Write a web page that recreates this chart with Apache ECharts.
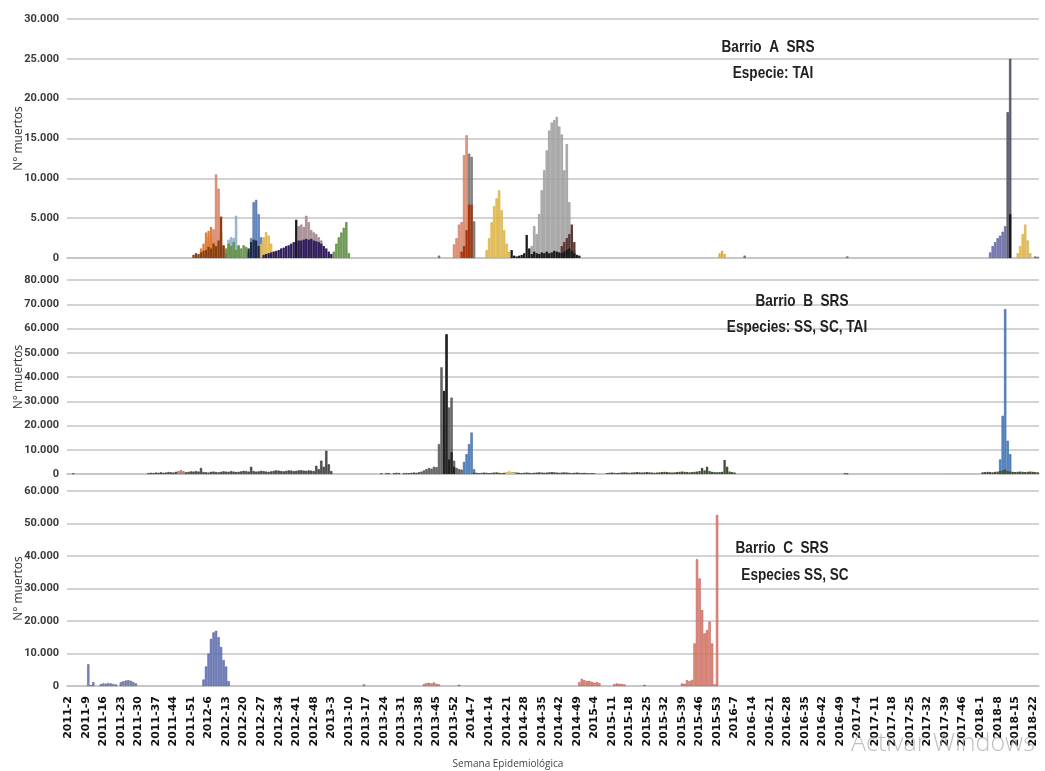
<!DOCTYPE html>
<html>
<head>
<meta charset="utf-8">
<script src="https://cdn.jsdelivr.net/npm/echarts@6.0.0/dist/echarts.min.js"></script>
<style>
  html, body { margin: 0; padding: 0; background: #fff; }
  #chart { width: 1045px; height: 771px; }
</style>
</head>
<body>
<div id="chart"></div>
<script>
// semanas epidemiológicas: [año, primera, última]
const semanasPorAnio = [[2011, 2, 52], [2012, 1, 52], [2013, 1, 52], [2014, 1, 52],
  [2015, 1, 53], [2016, 1, 52], [2017, 1, 52], [2018, 1, 24]];
const semanas = [];
semanasPorAnio.forEach(([anio, desde, hasta]) => {
  for (let w = desde; w <= hasta; w++) semanas.push(anio + '-' + w);
});

const ticksA = [0, 5000, 10000, 15000, 20000, 25000, 30000];
const ticksB = [0, 10000, 20000, 30000, 40000, 50000, 60000, 70000, 80000];
const ticksC = [0, 10000, 20000, 30000, 40000, 50000, 60000];

// ---- Barrio A (TAI) ----  cada tramo: semana inicial + valores semanales
const aSalmon1Desde = '2012-5', aSalmon1 = [2000, 2600, 3000, 3600, 10500, 8700, 3200, 1500];
const aSalmon2Desde = '2013-52', aSalmon2 = [1700, 2500, 4200, 4500, 12900, 15400];
const aNaranjaDesde = '2012-3', aNaranja = [1200, 1800, 3200, 3400, 3900, 2000];
const aCafeDesde = '2011-52', aCafe = [400, 600, 500, 700, 900, 1000, 1400, 1200, 1800, 1500, 2200, 5200, 1600, 600];
const aCelesteDesde = '2012-14', aCeleste = [2300, 2600, 2500, 5300, 1500];
const aVerde1Desde = '2012-13', aVerde1 = [1200, 1800, 1500, 2000, 1000, 1600, 1200, 1600, 1400, 800];
const aAzulDesde = '2012-23', aAzul = [2500, 7000, 7300, 5500, 2600];
const aMarinoDesde = '2012-22', aMarino = [1200, 2000, 2300, 2200, 1500];
const aAmarillo1Desde = '2012-27', aAmarillo1 = [1800, 2600, 3250, 2800, 1800, 800];
const aRosaDesde = '2012-42', aRosa = [4000, 4200, 3900, 5300, 4500, 3500, 3200, 3000, 2600, 2200];
const aMoradoDesde = '2012-28', aMorado = [400, 500, 600, 700, 800, 900, 1000, 1200, 1300, 1500, 1600, 1800, 2000, 2100,
  2200, 2200, 2300, 2400, 2300, 2400, 2200, 2100, 2000, 1800, 1500, 1200, 800, 500];
const aNegro1Desde = '2012-41', aNegro1 = [4800];
const aVerde2Desde = '2013-4', aVerde2 = [800, 1800, 2600, 3200, 3800, 4500, 600];
const aGris2Desde = '2014-6', aGris2 = [13100, 12700, 4600];
const aRojizoDesde = '2014-3', aRojizo = [800, 1500, 3500, 6700, 6700];
const aAmarillo2Desde = '2014-13', aAmarillo2 = [1000, 2500, 4500, 6500, 7500, 8500, 6000, 3500, 1800, 800];
const aGrisClaroDesde = '2014-31', aGrisClaro = [1500, 4000, 3000, 5500, 8500, 11000, 13500, 16000, 17000, 17300,
  17700, 16500, 15500, 11000, 14300, 7000, 3500, 1000];
const aNegro2Desde = '2014-23', aNegro2 = [1000, 300, 200, 300, 400, 600, 2900, 1200, 500, 800, 600, 500, 700, 600,
  800, 600, 700, 900, 800, 700, 600, 800, 1000, 1200, 900, 600, 400, 300];
const aPardoDesde = '2014-43', aPardo = [1500, 2000, 2500, 3000, 4200, 2000];
const aNaranja2Desde = '2016-1', aNaranja2 = [600, 900, 500];
const aTenue1Desde = '2013-46', aTenue1 = [300];
const aTenue2Desde = '2016-11', aTenue2 = [300];
const aTenue3Desde = '2016-52', aTenue3 = [200];
const aLilaDesde = '2018-5', aLila = [700, 1500, 2000, 2500, 2800, 3300, 4000];
const aPizarraDesde = '2018-12', aPizarra = [18300, 25000];
const aNegro3Desde = '2018-13', aNegro3 = [5500];
const aAmarillo3Desde = '2018-16', aAmarillo3 = [600, 1500, 3000, 4200, 2200, 600];
const aTenue4Desde = '2018-23', aTenue4 = [200, 150];

// ---- Barrio B (SS, SC, TAI) ----
const bPuntoDesde = '2011-4', bPunto = [300];
const bBase1Desde = '2011-34', bBase1 = [400, 500, 400, 600, 500, 700, 500, 600, 800, 700, 600, 900,
  600, 700, 600, 700, 900, 1100, 1000, 1200, 1000, 2500,
  800, 700, 600, 900, 1000, 800, 700, 900, 1100, 1000, 900, 1200, 1000, 800, 900, 1100, 1300, 1200, 1000, 3000,
  1200, 1000, 1100, 1300, 1200, 1000, 900, 1100, 1300, 1500, 1400, 1200, 1100, 1300, 1500, 1400, 1200, 1300,
  1500, 1600, 1400, 1300, 1500, 1400, 1200, 3400, 2000, 5500, 3000, 9600, 4000, 1200];
const bRojoDesde = '2011-46', bRojo = [1300, 1600, 1200];
const bTenue1Desde = '2013-23', bTenue1 = [300, 0, 400, 300, 0, 300, 500, 400, 0, 300, 400, 300, 500, 600, 500, 700];
const bGrisDesde = '2013-39', bGris = [1000, 1500, 2000, 2500, 2200, 3000, 2800, 12300, 44000, 20000, 57600, 27400,
  31500, 5500, 2500, 2000, 1800];
const bNegroDesde = '2013-48', bNegro = [34300, 57600, 6000, 9000, 3000];
const bAzul1Desde = '2014-4', bAzul1 = [5000, 8200, 12300, 17100, 2000];
const bBase2Desde = '2014-8', bBase2 = [600, 500, 400, 500, 600, 500, 400, 500, 600, 700, 500, 400, 500, 600, 500,
  600, 700, 600, 500, 400, 500, 600, 500, 400, 500, 600, 700, 600, 500, 600, 700, 800, 700, 600, 500, 600, 700,
  600, 500, 400, 500, 600, 500, 400, 500, 400, 300, 400, 300];
const bAmarillo1Desde = '2014-21', bAmarillo1 = [800, 1200, 900, 600];
const bBase3Desde = '2015-9', bBase3 = [400, 500, 600, 500, 400, 500, 600, 700, 600, 500, 600, 700, 800, 700, 600,
  700, 800, 700, 600, 500, 600, 700, 800, 900, 800, 700, 600, 700, 800, 900, 1000, 900, 800, 700, 800, 900, 1000,
  1200, 2500, 1500, 3000, 1200, 900, 800, 700, 800, 900, 5800, 3000, 1000, 800, 600];
const bTenue2Desde = '2016-51', bTenue2 = [300, 200];
const bAmarillo2Desde = '2017-39', bAmarillo2 = [300, 200, 300, 400, 300, 200, 300, 400, 300, 200, 300, 400, 300];
const bBase4Desde = '2018-2', bBase4 = [700, 800, 900, 800, 700, 900, 1000, 1200, 1500, 1800, 1200, 1000, 900, 800,
  900, 1000, 900, 800, 900, 1000, 900, 800, 700];
const bAzul2Desde = '2018-9', bAzul2 = [6000, 24000, 68000, 13700, 8200];

// ---- Barrio C (SS, SC) ----
const cGrisAzulDesde = '2011-10', cGrisAzul = [6700, 300, 1200];
const cBajoDesde = '2011-15', cBajo = [600, 800, 700, 900, 800, 600, 500, 0, 1200, 1500, 1700, 1800, 1600, 1200, 800];
const cAzulDesde = '2012-4', cAzul = [2000, 6000, 10000, 14500, 16500, 17000, 15000, 12000, 8000, 6000, 1500];
const cTenue1Desde = '2013-16', cTenue1 = [500];
const cRojo1Desde = '2013-40', cRojo1 = [600, 900, 1000, 800, 1100, 700, 500];
const cTenue2Desde = '2014-2', cTenue2 = [400];
const cRojo2Desde = '2014-50', cRojo2 = [1200, 2200, 1800, 1500, 1600, 1300, 1000, 1200, 900];
const cRojo3Desde = '2015-12', cRojo3 = [600, 800, 700, 600, 500];
const cTenue3Desde = '2015-24', cTenue3 = [400];
const cRojo4Desde = '2015-39', cRojo4 = [800, 700, 1800, 1500, 1900, 13100, 39000, 33100, 23400, 16200, 17200,
  19800, 13100, 500, 52600];

function tramos(lista) {
  const data = semanas.map(() => '-');
  lista.forEach(([desde, valores]) => {
    const i0 = semanas.indexOf(desde);
    valores.forEach((v, k) => { if (v) data[i0 + k] = v; });
  });
  return data;
}

function serie(panel, nombre, color, lista, borde) {
  return {
    type: 'bar',
    name: nombre,
    xAxisIndex: panel,
    yAxisIndex: panel,
    data: tramos(lista),
    barGap: '-100%',
    barCategoryGap: '8%',
    itemStyle: { color: color, borderColor: borde || color, borderWidth: borde ? 0.6 : 0 },
    emphasis: { disabled: true }
  };
}

const series = [
  // A
  serie(0, 'salmón', '#e49a7e', [[aSalmon1Desde, aSalmon1], [aSalmon2Desde, aSalmon2]], '#c96f52'),
  serie(0, 'naranja', '#e07f38', [[aNaranjaDesde, aNaranja]]),
  serie(0, 'café', '#86400f', [[aCafeDesde, aCafe]]),
  serie(0, 'celeste', '#a3bddb', [[aCelesteDesde, aCeleste]], '#7f9cc0'),
  serie(0, 'verde', '#72a353', [[aVerde1Desde, aVerde1], [aVerde2Desde, aVerde2]], '#557f3b'),
  serie(0, 'azul', '#6d92cc', [[aAzulDesde, aAzul]], '#3f64a0'),
  serie(0, 'marino', '#1f2a48', [[aMarinoDesde, aMarino]]),
  serie(0, 'amarillo', '#e9c55a', [[aAmarillo1Desde, aAmarillo1], [aAmarillo2Desde, aAmarillo2], [aAmarillo3Desde, aAmarillo3]], '#d3a63a'),
  serie(0, 'rosa', '#b9a0a4', [[aRosaDesde, aRosa]], '#8d7277'),
  serie(0, 'morado', '#2d1d5a', [[aMoradoDesde, aMorado]]),
  serie(0, 'gris', '#8a8a8a', [[aGris2Desde, aGris2], [aTenue1Desde, aTenue1], [aTenue2Desde, aTenue2], [aTenue3Desde, aTenue3], [aTenue4Desde, aTenue4]], '#5a5a5a'),
  serie(0, 'gris claro', '#b5b5b5', [[aGrisClaroDesde, aGrisClaro]], '#8c8c8c'),
  serie(0, 'rojizo', '#a5360d', [[aRojizoDesde, aRojizo]]),
  serie(0, 'pardo', '#5a3535', [[aPardoDesde, aPardo]]),
  serie(0, 'naranja 2', '#eaa640', [[aNaranja2Desde, aNaranja2]]),
  serie(0, 'lila', '#7f82bb', [[aLilaDesde, aLila]], '#545890'),
  serie(0, 'pizarra', '#66697e', [[aPizarraDesde, aPizarra]], '#3a3c4c'),
  serie(0, 'negro', '#1a1a1a', [[aNegro1Desde, aNegro1], [aNegro2Desde, aNegro2], [aNegro3Desde, aNegro3]]),
  // B
  serie(1, 'base', '#555555', [[bPuntoDesde, bPunto], [bBase1Desde, bBase1], [bTenue1Desde, bTenue1], [bTenue2Desde, bTenue2]], '#333333'),
  serie(1, 'rojo', '#d0767a', [[bRojoDesde, bRojo]]),
  serie(1, 'gris', '#6e6e6e', [[bGrisDesde, bGris]], '#444444'),
  serie(1, 'negro', '#222222', [[bNegroDesde, bNegro]]),
  serie(1, 'azul', '#5b8cca', [[bAzul1Desde, bAzul1], [bAzul2Desde, bAzul2]], '#2f5f9e'),
  serie(1, 'verde oscuro', '#3f4f35', [[bBase2Desde, bBase2], [bBase3Desde, bBase3], [bBase4Desde, bBase4]]),
  serie(1, 'amarillo', '#e6c24e', [[bAmarillo1Desde, bAmarillo1], [bAmarillo2Desde, bAmarillo2]]),
  // C
  serie(2, 'gris azul', '#7d88b5', [[cGrisAzulDesde, cGrisAzul], [cBajoDesde, cBajo], [cTenue1Desde, cTenue1], [cTenue2Desde, cTenue2], [cTenue3Desde, cTenue3]], '#5a6490'),
  serie(2, 'azul', '#7584c2', [[cAzulDesde, cAzul]], '#4a5a9a'),
  serie(2, 'rojo', '#e3977d', [[cRojo1Desde, cRojo1], [cRojo2Desde, cRojo2], [cRojo3Desde, cRojo3], [cRojo4Desde, cRojo4]], '#c0504d')
];

const grids = [
  { left: 67, right: 6, top: 19, height: 239, outerBoundsMode: 'none', containLabel: false },
  { left: 67, right: 6, top: 280, height: 194, outerBoundsMode: 'none', containLabel: false },
  { left: 67, right: 6, top: 491, height: 195, outerBoundsMode: 'none', containLabel: false }
];
const maxes = [ticksA[ticksA.length - 1], ticksB[ticksB.length - 1], ticksC[ticksC.length - 1]];
const pasos = [ticksA[1], ticksB[1], ticksC[1]];

const fuenteTitulo = "bold 17px 'Liberation Sans', Arial, sans-serif";

function titulo(texto, x, y) {
  return {
    type: 'text', z: 100, x: x, y: y, scaleX: 0.8,
    style: { text: texto, x: 0, y: 0, textAlign: 'center', textVerticalAlign: 'middle', fill: '#222', font: fuenteTitulo }
  };
}

const myChart = echarts.init(document.getElementById('chart'), null, { renderer: 'canvas' });
const option = {
  animation: false,
  backgroundColor: '#ffffff',
  grid: grids,
  xAxis: grids.map((g, i) => ({
    type: 'category',
    gridIndex: i,
    data: semanas,
    boundaryGap: true,
    axisLine: { show: true, lineStyle: { color: '#c4c4c4', width: 1.5 } },
    axisTick: { show: false },
    splitLine: { show: false },
    axisLabel: i === 2 ? {
      show: true,
      interval: 6,
      rotate: 90,
      margin: 10,
      color: '#111',
      fontWeight: 'bold',
      fontSize: 11,
      fontFamily: 'DejaVu Sans'
    } : { show: false }
  })),
  yAxis: grids.map((g, i) => ({
    type: 'value',
    gridIndex: i,
    min: 0,
    max: maxes[i],
    interval: pasos[i],
    name: 'N° muertos',
    nameLocation: 'middle',
    nameGap: 42,
    nameMoveOverlap: false,
    nameTextStyle: { color: '#333', fontSize: 12, fontFamily: 'Open Sans' },
    axisLine: { show: false },
    axisTick: { show: false },
    splitLine: { show: true, lineStyle: { color: '#c4c4c4', width: 1.5 } },
    axisLabel: {
      color: '#3a3a3a',
      fontSize: 11,
      fontWeight: 'bold',
      fontFamily: 'Roboto',
      margin: 8,
      formatter: v => v === 0 ? '0' : (v / 1000) + '.000'
    }
  })),
  series: series,
  graphic: [
    titulo('Barrio  A  SRS', 768, 47),
    titulo('Especie: TAI', 773, 73),
    titulo('Barrio  B  SRS', 802, 301),
    titulo('Especies: SS, SC, TAI', 797, 327),
    titulo('Barrio  C  SRS', 782, 548),
    titulo('Especies SS, SC', 795, 575),
    { type: 'text', z: 100, style: { text: 'Semana Epidemiológica', x: 508, y: 764, textAlign: 'center', textVerticalAlign: 'middle', fill: '#444', font: "10px 'Open Sans'" } },
    { type: 'text', z: 100, style: { text: 'Activar Windows', x: 851, y: 744, textAlign: 'left', textVerticalAlign: 'middle', fill: 'rgba(170,170,170,0.75)', font: "300 25px 'Open Sans'" } }
  ]
};
myChart.setOption(option);
</script>
</body>
</html>
